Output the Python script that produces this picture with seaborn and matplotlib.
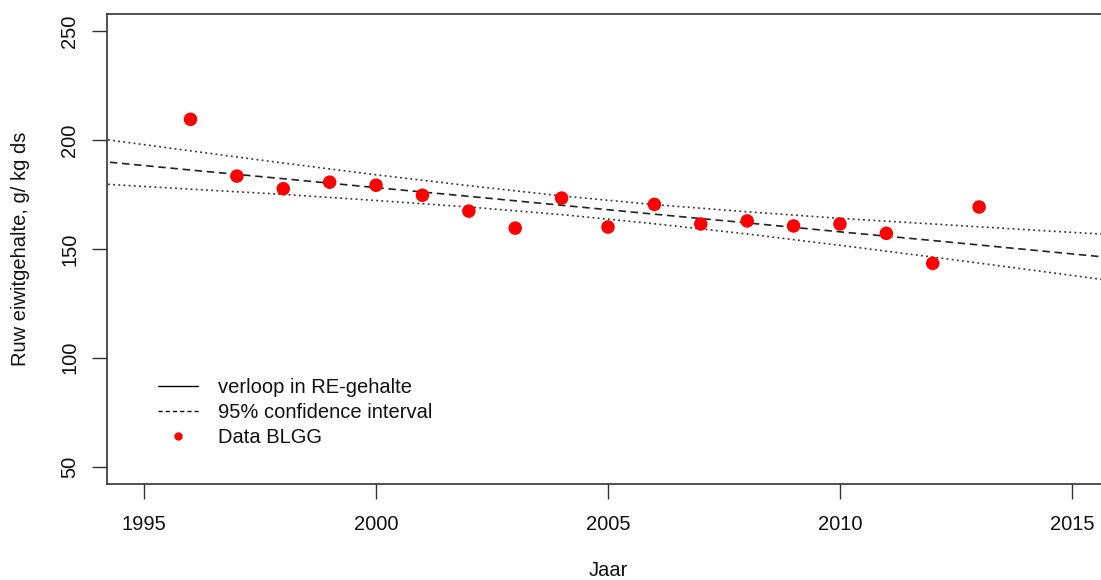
import numpy as np
import pandas as pd
import matplotlib
matplotlib.use("Agg")
import matplotlib.pyplot as plt
from matplotlib.lines import Line2D
import seaborn as sns

# Data
years = [1996, 1997, 1998, 1999, 2000, 2001, 2002, 2003, 2004,
         2005, 2006, 2007, 2008, 2009, 2010, 2011, 2012, 2013]
protein = [209.6, 183.5, 177.7, 180.7, 179.3, 174.7, 167.4, 159.6, 173.4,
           160.1, 170.5, 161.5, 162.9, 160.6, 161.5, 157.2, 143.4, 169.3]

line_years = [1994, 1996, 1998, 2000, 2002, 2004, 2006, 2008, 2010, 2012, 2014, 2016]
trend = [190.4, 186.3, 182.3, 178.2, 174.2, 170.1, 166.0, 162.0, 157.9, 153.9, 149.8, 145.7]
ci_upper = [200.8, 195.1, 189.5, 184.1, 179.1, 174.4, 170.4, 167.1, 164.1, 161.5, 158.9, 156.4]
ci_lower = [180.0, 177.5, 175.1, 172.3, 169.3, 165.8, 161.6, 156.9, 151.7, 146.3, 140.7, 135.0]

x_ticks = [1995, 2000, 2005, 2010, 2015]
y_ticks = [50, 100, 150, 200, 250]
legend_labels = ["verloop in RE-gehalte", "95% confidence interval", "Data BLGG"]

pts = pd.DataFrame({"Jaar": years, "RE": protein})
lines = pd.DataFrame({"Jaar": line_years, "fit": trend, "lo": ci_lower, "hi": ci_upper})

sns.set_theme(style="white")
plt.rcParams["font.family"] = ["Liberation Sans", "DejaVu Sans"]

FS = 14.5
TXT = "#111111"
fig = plt.figure(figsize=(11.01, 5.80), dpi=100)
W, H = 1101, 580
ax = fig.add_axes([107 / W, (H - 484) / H, (1109 - 107) / W, (484 - 14) / H])

sns.lineplot(data=lines, x="Jaar", y="fit", ax=ax, color="#222222", lw=1.2,
             linestyle=(0, (4.5, 2.8)), legend=False)
sns.lineplot(data=lines, x="Jaar", y="hi", ax=ax, color="#333333", lw=1.2,
             linestyle=(0, (1.1, 2.0)), legend=False)
sns.lineplot(data=lines, x="Jaar", y="lo", ax=ax, color="#333333", lw=1.2,
             linestyle=(0, (1.1, 2.0)), legend=False)
sns.scatterplot(data=pts, x="Jaar", y="RE", ax=ax, color="#ff0000", s=95,
                edgecolor="none", legend=False, zorder=3)

ax.set_xlim(1995 - 0.8, 2015 + 0.8)
ax.set_ylim(50 - 8, 250 + 8)
ax.set_xticks(x_ticks)
ax.set_yticks(y_ticks)
ax.set_xticklabels([str(v) for v in x_ticks], fontsize=FS, color=TXT)
ax.set_yticklabels([str(v) for v in y_ticks], fontsize=FS, color=TXT,
                   rotation=90, va="center")
ax.tick_params(axis="both", direction="out", length=11, width=1.0,
               color="#333333", bottom=True, left=True)
ax.tick_params(axis="x", pad=11)
ax.tick_params(axis="y", pad=9)
for side in ["left", "bottom", "top"]:
    ax.spines[side].set_color("#333333")
    ax.spines[side].set_linewidth(1.2)
ax.spines["right"].set_visible(False)

ax.set_xlabel("Jaar", fontsize=FS, color=TXT, va="center")
ax.xaxis.set_label_coords(0.5, (484 - 570) / 470)
ax.set_ylabel("Ruw eiwitgehalte, g/ kg ds", fontsize=FS, color=TXT, va="center")
ax.yaxis.set_label_coords((21 - 107) / 1002, 0.5)

handles = [
    Line2D([0], [0], color="black", lw=1.0, linestyle="-"),
    Line2D([0], [0], color="black", lw=1.0, linestyle=(0, (3, 2.2))),
    Line2D([0], [0], color="#ff0000", lw=0, marker="o", markersize=5),
]
leg = ax.legend(handles, legend_labels, loc="upper left",
                bbox_to_anchor=((148 - 107) / 1002, (484 - 368) / 470),
                frameon=False, fontsize=FS, handlelength=2.0,
                handletextpad=1.0, labelspacing=0.3, borderpad=0)
for t in leg.get_texts():
    t.set_color(TXT)

fig.savefig("out.png", dpi=100)
